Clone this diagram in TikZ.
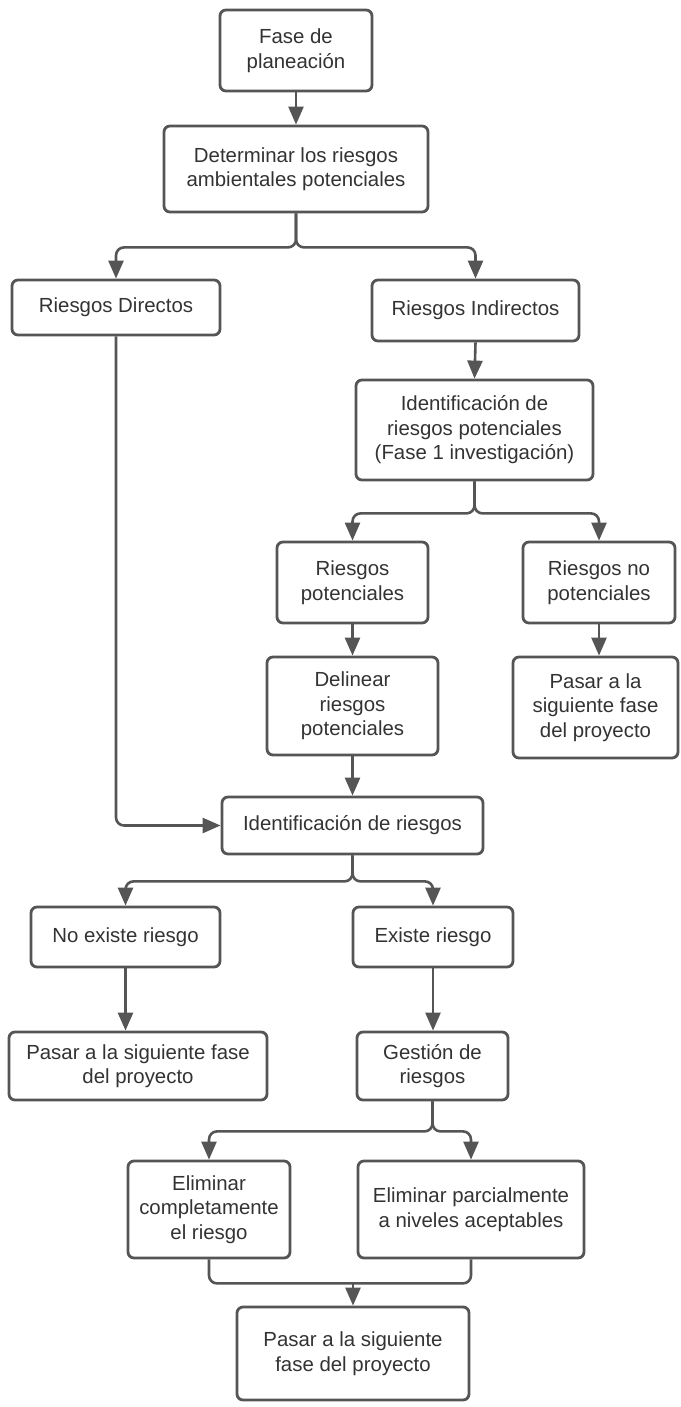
\documentclass[tikz,border=0pt]{standalone}
\usepackage{fontspec}
\setmainfont{Liberation Sans}
\usetikzlibrary{arrows.meta,calc}
\definecolor{edge}{HTML}{555555}
\definecolor{txt}{HTML}{333333}
\tikzset{
  box/.style={draw=edge, line width=2.8pt, rounded corners=6pt, fill=white,
    align=center, text=txt, inner sep=0pt,
    font=\fontsize{20.4}{24.5}\selectfont},
  ln/.style={draw=edge, line width=2.6pt, rounded corners=8pt},
  arr/.style={ln, -{Triangle[length=18pt,width=15pt]}}
}
\newcommand{\bx}[6]{\node[box, minimum width=#4pt, minimum height=#5pt] (#1) at (#2,#3) {#6};}
\begin{document}
\begin{tikzpicture}[x=1pt,y=-1pt]
\useasboundingbox[fill=white] (0,0) rectangle (680,1407);
\bx{fase}{296}{50.5}{152}{81}{Fase de\\planeación}
\bx{det}{296}{169}{264}{86}{Determinar los riesgos\\ambientales potenciales}
\bx{dir}{116}{307.5}{208}{55}{Riesgos Directos}
\bx{ind}{475.5}{310.5}{207}{61}{Riesgos Indirectos}
\bx{idp}{474.5}{430}{237}{100}{Identificación de\\riesgos potenciales\\(Fase 1 investigación)}
\bx{rp}{352.5}{582.5}{151}{81}{Riesgos\\potenciales}
\bx{rnp}{599}{582.5}{152}{81}{Riesgos no\\potenciales}
\bx{del}{352.5}{706}{171}{98}{Delinear\\riesgos\\potenciales}
\bx{pas1}{595.5}{707.5}{165}{101}{Pasar a la\\siguiente fase\\del proyecto}
\bx{idr}{352.5}{825.5}{261}{57}{Identificación de riesgos}
\bx{nex}{125.5}{937}{189}{60}{No existe riesgo}
\bx{ex}{433}{937}{160}{60}{Existe riesgo}
\bx{pas2}{138}{1066}{258}{68}{Pasar a la siguiente fase\\del proyecto}
\bx{ges}{432.5}{1066}{151}{68}{Gestión de\\riesgos}
\bx{elc}{209}{1209.5}{162}{97}{Eliminar\\completamente\\el riesgo}
\bx{elp}{471}{1209.5}{226}{97}{Eliminar parcialmente\\a niveles aceptables}
\bx{fin}{353}{1353.5}{232}{93}{Pasar a la siguiente\\fase del proyecto}

\draw[arr] (fase.south) -- (det.north);
\coordinate (j1) at ([yshift=-34pt]det.south);
\draw[arr] (det.south) -- (j1) -| (dir.north);
\draw[arr] (det.south) -- (j1) -| (ind.north);
\draw[arr] (ind.south) -- (idp.north);
\coordinate (j2) at ([yshift=-32pt]idp.south);
\draw[arr] (idp.south) -- (j2) -| (rp.north);
\draw[arr] (idp.south) -- (j2) -| (rnp.north);
\draw[arr] (rp.south) -- (del.north);
\draw[arr] (rnp.south) -- (rnp.south |- pas1.north);
\draw[arr] (del.south) -- (idr.north);
\draw[arr] (dir.south) |- (idr.west);
\coordinate (j3) at ([yshift=-26pt]idr.south);
\draw[arr] (idr.south) -- (j3) -| (nex.north);
\draw[arr] (idr.south) -- (j3) -| (ex.north);
\draw[arr] (nex.south) -- (nex.south |- pas2.north);
\draw[arr] (ex.south) -- (ex.south |- ges.north);
\coordinate (j4) at ([yshift=-30pt]ges.south);
\draw[arr] (ges.south) -- (j4) -| (elc.north);
\draw[arr] (ges.south) -- (j4) -| (elp.north);
\coordinate (m1) at ([yshift=-24pt]elc.south);
\coordinate (m2) at ([yshift=-24pt]elp.south);
\draw[ln] (elc.south) -- (m1) -- (m2) -- (elp.south);
\draw[arr] (fin.north |- m1) -- (fin.north);
\end{tikzpicture}
\end{document}
